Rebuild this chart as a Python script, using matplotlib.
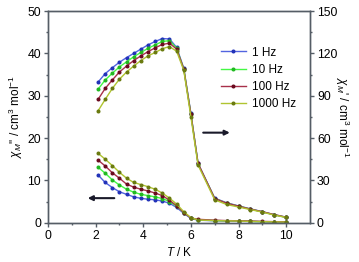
import matplotlib
matplotlib.use("Agg")
import matplotlib.pyplot as plt

plt.rcParams['font.family'] = ['Liberation Sans', 'DejaVu Sans']
plt.rcParams['mathtext.fontset'] = 'custom'
plt.rcParams['mathtext.rm'] = 'Liberation Sans'
plt.rcParams['mathtext.it'] = 'Liberation Sans:italic'

# Data
T = [2.1, 2.4, 2.7, 3.0, 3.3, 3.6, 3.9, 4.2, 4.5, 4.8, 5.1, 5.4, 5.7, 6.0,
     6.3, 7.0, 7.5, 8.0, 8.5, 9.0, 9.5, 10.0]
labels = ["1 Hz", "10 Hz", "100 Hz", "1000 Hz"]

# chi' (right axis, cm^3 mol^-1)
chi1_1 = [99.6, 105.6, 109.8, 113.7, 117.0, 120.0, 123.0, 126.0, 128.4, 130.5, 130.2,
          124.2, 109.5, 77.4, 42.0, 17.4, 14.1, 11.9, 9.8, 7.8, 5.7, 3.9]
chi1_10 = [94.5, 101.1, 105.9, 110.4, 114.0, 117.6, 120.6, 123.6, 126.0, 128.4, 129.0,
           123.6, 108.9, 76.8, 41.7, 17.1, 13.8, 11.7, 9.6, 7.65, 5.55, 3.75]
chi1_100 = [87.3, 95.1, 101.1, 106.8, 111.0, 114.9, 118.2, 121.2, 123.9, 126.3, 127.2,
            123.0, 108.9, 76.8, 42.0, 17.1, 13.8, 11.7, 9.6, 7.8, 5.7, 3.9]
chi1_1000 = [79.2, 87.3, 95.1, 101.7, 106.8, 111.0, 114.9, 118.2, 120.6, 123.3, 124.8,
             121.5, 108.0, 75.0, 40.8, 16.2, 12.9, 11.1, 9.3, 7.5, 5.4, 3.75]

# chi'' (left axis, cm^3 mol^-1)
chi2_1 = [11.3, 9.5, 8.3, 7.3, 6.7, 6.1, 5.75, 5.55, 5.4, 5.1, 4.6, 3.6, 2.2, 1.0,
          0.6, 0.45, 0.4, 0.35, 0.3, 0.25, 0.2, 0.15]
chi2_10 = [13.1, 11.7, 10.1, 8.9, 7.9, 7.2, 6.7, 6.4, 6.1, 5.7, 5.0, 3.9, 2.4, 1.1,
           0.65, 0.5, 0.45, 0.4, 0.3, 0.25, 0.2, 0.15]
chi2_100 = [14.8, 13.4, 11.8, 10.5, 9.1, 8.4, 7.9, 7.5, 7.0, 6.4, 5.3, 4.0, 2.4, 1.1,
            0.8, 0.6, 0.5, 0.45, 0.4, 0.3, 0.25, 0.2]
chi2_1000 = [16.4, 15.0, 13.5, 11.9, 10.5, 9.5, 9.0, 8.5, 7.9, 7.0, 5.8, 4.4, 2.6, 1.2,
             0.65, 0.5, 0.45, 0.4, 0.3, 0.25, 0.2, 0.15]

line_colors = ["#5264e0", "#44f844", "#a8304a", "#b0c430"]
marker_colors = ["#2232b8", "#22b822", "#6a0a1e", "#6a7a10"]

fig = plt.figure(figsize=(3.59, 2.62), dpi=100)
ax = fig.add_axes([48/359, 39.3/262, 262/359, 211.7/262])
ax2 = ax.twinx()

for y2, c, mc in zip([chi2_1, chi2_10, chi2_100, chi2_1000], line_colors, marker_colors):
    ax.plot(T, y2, '-', color=c, lw=1.0, marker='o', ms=1.9, mfc=mc, mec=mc)

handles = []
for y1, c, mc, lab in zip([chi1_1, chi1_10, chi1_100, chi1_1000], line_colors, marker_colors, labels):
    h, = ax2.plot(T, y1, '-', color=c, lw=1.0, marker='o', ms=1.9, mfc=mc, mec=mc, label=lab)
    handles.append(h)

ax.set_xlim(0, 11)
ax.set_ylim(0, 50)
ax2.set_ylim(0, 150)
ax.set_xticks([0, 2, 4, 6, 8, 10])
ax.set_xticks([1, 3, 5, 7, 9], minor=True)
ax.set_yticks([0, 10, 20, 30, 40, 50])
ax.set_yticks([5, 15, 25, 35, 45], minor=True)
ax2.set_yticks([0, 30, 60, 90, 120, 150])
ax2.set_yticks([15, 45, 75, 105, 135], minor=True)

spine_color = "#555d66"
for a in (ax, ax2):
    for s in a.spines.values():
        s.set_color(spine_color)
        s.set_linewidth(1.0)
    a.tick_params(which='major', length=3, width=1.0, color=spine_color,
                  labelsize=8.8, direction='out', pad=2)
    a.tick_params(which='minor', length=1.5, width=1.0, color=spine_color, direction='out')

ax.set_xlabel(r"$T$ / K", fontsize=8.5, labelpad=3)
ax.set_ylabel(r"$\chi_M$'' / cm$^3$ mol$^{-1}$", fontsize=8.5, labelpad=2)
ax2.set_ylabel(r"$\chi_M$' / cm$^3$ mol$^{-1}$", fontsize=8.5, rotation=270, labelpad=10)

# arrows
ax.annotate("", xy=(1.55, 5.8), xytext=(2.9, 5.8),
            arrowprops=dict(arrowstyle='-|>', color='#1a1a2a', lw=1.5, mutation_scale=7))
ax2.annotate("", xy=(7.75, 63.8), xytext=(6.4, 63.8),
             arrowprops=dict(arrowstyle='-|>', color='#1a1a2a', lw=1.5, mutation_scale=7))

leg = ax2.legend(handles=handles, loc='upper left', bbox_to_anchor=(221/359, 1 - 46.5/262),
                 bbox_transform=fig.transFigure, frameon=False, fontsize=8.5,
                 handlelength=2.1, handletextpad=0.5, labelspacing=0.45,
                 borderpad=0, borderaxespad=0, numpoints=1)

fig.savefig("out.png", dpi=100)
